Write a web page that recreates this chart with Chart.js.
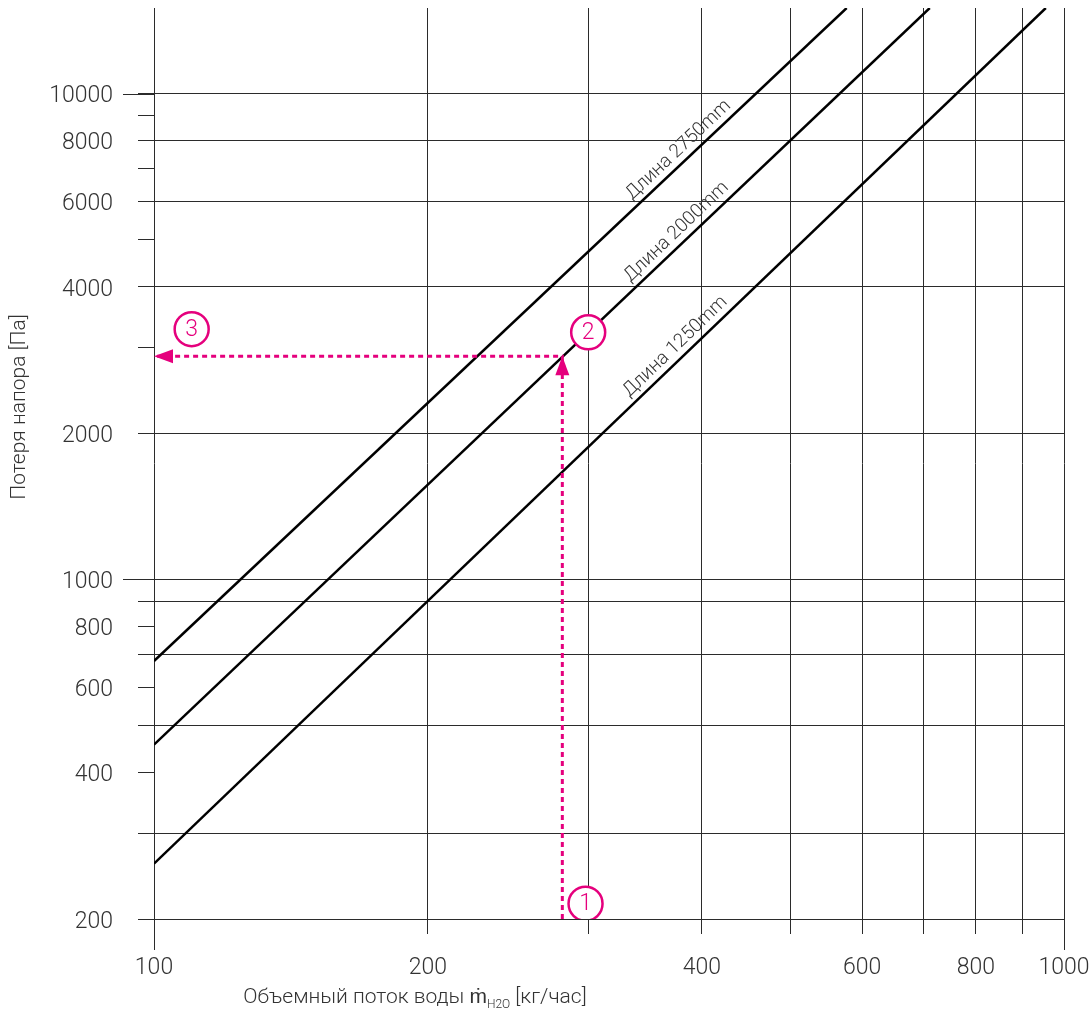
<!DOCTYPE html>
<html>
<head>
<meta charset="utf-8">
<script src="https://cdn.jsdelivr.net/npm/chart.js@4/dist/chart.umd.min.js"></script>
<style>
html,body{margin:0;padding:0;background:#fff;}
#wrap{width:1091px;height:1019px;}
</style>
</head>
<body>
<div id="wrap"><canvas id="c" width="1091" height="1019"></canvas></div>
<script>
// ---- data ----
const flowTicks = [100,200,300,400,500,600,700,800,900,1000];
const flowLabels = [100,200,400,600,800,1000];
const pressureTicks = [200,300,400,500,600,700,800,900,1000,2000,3000,4000,5000,6000,7000,8000,9000,10000];
const pressureGrid = [200,300,500,700,900,1000,2000,4000,6000,8000,10000];
const pressureLabels = [200,400,600,800,1000,2000,4000,6000,8000,10000];
const majorFlow = [100,1000];
const majorPressure = [1000,10000];

const seriesNames = ['Длина 2750mm','Длина 2000mm','Длина 1250mm'];
const seriesFlow = [[100,577],[100,712],[100,955]];
const seriesPressure = [[679,15000],[457,15000],[260,15000]];
const seriesLabelFlow = [385,383,382];

const exampleFlow = [281,281,100];
const examplePressure = [200,2880,2880];
const stepFlow = [298,300,110];
const stepPressure = [215,3226,3274];
const stepLabels = ['1','2','3'];

const yTitle = 'Потеря напора [Па]';
const xTitleMain = 'Объемный поток воды ';
const xTitleSym = 'ṁ';
const xTitleSub = 'H2O';
const xTitleUnit = ' [кг/час]';

// ---- styles ----
const FONT = 'Roboto, "Liberation Sans", sans-serif';
const MAG = '#e5007d';
const GRID = '#2b2b2b';
const TXT = '#333333';

const lineSets = seriesNames.map((n,i)=>({
  label:n,
  data: seriesFlow[i].map((x,j)=>({x:x,y:seriesPressure[i][j]})),
  showLine:true, borderColor:'#000', borderWidth:2.5, pointRadius:0, tension:0, order:2
}));

const exampleSet = {
  label:'example',
  data: exampleFlow.map((x,j)=>({x:x,y:examplePressure[j]})),
  showLine:true, borderColor:MAG, borderWidth:3, borderDash:[5,4], pointRadius:0, tension:0, order:1
};
const stepSet = {
  label:'steps',
  data: stepFlow.map((x,j)=>({x:x,y:stepPressure[j]})),
  showLine:false, pointRadius:17, pointBorderWidth:2.5, pointBorderColor:MAG, pointBackgroundColor:'#fff', order:0
};

const extras = {
  id:'extras',
  afterDraw(chart){
    const ctx = chart.ctx, xs = chart.scales.x, ys = chart.scales.y, a = chart.chartArea;
    ctx.save();
    ctx.strokeStyle = GRID; ctx.lineWidth = 1;
    majorPressure.forEach(v=>{
      const y = Math.round(ys.getPixelForValue(v))+0.5;
      ctx.beginPath(); ctx.moveTo(a.left-31,y); ctx.lineTo(a.left,y); ctx.stroke();
    });
    majorFlow.forEach(v=>{
      const x = Math.round(xs.getPixelForValue(v))+0.5;
      ctx.beginPath(); ctx.moveTo(x,a.bottom); ctx.lineTo(x,a.bottom+31); ctx.stroke();
    });
    ctx.restore();
  },
  afterDatasetsDraw(chart){
    const ctx = chart.ctx, xs = chart.scales.x, ys = chart.scales.y;
    ctx.save();
    const pts = exampleFlow.map((x,j)=>({x:xs.getPixelForValue(x), y:ys.getPixelForValue(examplePressure[j])}));
    function arrow(from,to){
      const ang = Math.atan2(to.y-from.y,to.x-from.x);
      const L=19, W=7;
      ctx.beginPath();
      ctx.moveTo(to.x,to.y);
      ctx.lineTo(to.x-L*Math.cos(ang)+W*Math.sin(ang), to.y-L*Math.sin(ang)-W*Math.cos(ang));
      ctx.lineTo(to.x-L*Math.cos(ang)-W*Math.sin(ang), to.y-L*Math.sin(ang)+W*Math.cos(ang));
      ctx.closePath(); ctx.fillStyle = MAG; ctx.fill();
    }
    arrow(pts[0],pts[1]);
    arrow(pts[1],pts[2]);
    const meta = chart.getDatasetMeta(chart.data.datasets.indexOf(stepSet));
    ctx.fillStyle = MAG; ctx.font = '300 23px '+FONT; ctx.textAlign='center'; ctx.textBaseline='middle';
    meta.data.forEach((el,i)=>{ ctx.fillText(stepLabels[i], el.x, el.y+1); });
    ctx.fillStyle = '#333'; ctx.font = '300 19px '+FONT; ctx.textBaseline='middle';
    seriesNames.forEach((n,i)=>{
      const p0 = {x:xs.getPixelForValue(seriesFlow[i][0]), y:ys.getPixelForValue(seriesPressure[i][0])};
      const p1 = {x:xs.getPixelForValue(seriesFlow[i][1]), y:ys.getPixelForValue(seriesPressure[i][1])};
      const ang = Math.atan2(p1.y-p0.y,p1.x-p0.x);
      const px = xs.getPixelForValue(seriesLabelFlow[i]);
      const t = (px-p0.x)/(p1.x-p0.x);
      const py = p0.y + t*(p1.y-p0.y);
      ctx.save(); ctx.translate(px,py); ctx.rotate(ang);
      ctx.fillText(n,0,-12);
      ctx.restore();
    });
    ctx.restore();
  }
};

const titles = {
  id:'titles',
  afterDraw(chart){
    const ctx = chart.ctx;
    ctx.save();
    ctx.fillStyle = TXT;
    ctx.font = '300 21px '+FONT; ctx.textAlign='center'; ctx.textBaseline='middle';
    ctx.save(); ctx.translate(20,407); ctx.rotate(-Math.PI/2); ctx.fillText(yTitle,0,0); ctx.restore();
    const big = '300 21px '+FONT, small = '300 12px '+FONT;
    ctx.textAlign='left'; ctx.textBaseline='alphabetic';
    ctx.font = big; const w1 = ctx.measureText(xTitleMain).width; const w2 = ctx.measureText(xTitleSym).width; const w4 = ctx.measureText(xTitleUnit).width;
    ctx.font = small; const w3 = ctx.measureText(xTitleSub).width;
    const total = w1+w2+w3+w4; let x = 415 - total/2; const base = 1003;
    ctx.font = big; ctx.fillText(xTitleMain,x,base); x+=w1;
    ctx.fillText(xTitleSym,x,base); x+=w2;
    ctx.font = small; ctx.fillText(xTitleSub,x,base+5); x+=w3;
    ctx.font = big; ctx.fillText(xTitleUnit,x,base);
    ctx.restore();
  }
};

function noPad(s){ s.paddingTop=0; s.paddingBottom=0; s.paddingLeft=0; s.paddingRight=0; }

new Chart(document.getElementById('c'),{
  type:'scatter',
  data:{datasets:[stepSet, exampleSet, ...lineSets]},
  options:{
    responsive:false, animation:false, devicePixelRatio:1,
    layout:{autoPadding:false, padding:{top:8,right:27,left:0,bottom:0}},
    plugins:{legend:{display:false},tooltip:{enabled:false}},
    events:[],
    scales:{
      x:{
        type:'logarithmic', min:100, max:1000,
        afterBuildTicks(s){ s.ticks = flowTicks.map(v=>({value:v})); },
        afterFit(s){ s.height = 100; noPad(s); },
        border:{display:false},
        grid:{color:GRID, lineWidth:1, tickLength:15, tickColor:GRID},
        ticks:{autoSkip:false, maxRotation:0, padding:20, color:TXT, font:{family:FONT, size:23, weight:'300'},
          callback:(v)=> flowLabels.includes(v) ? String(v) : ''}
      },
      y:{
        type:'logarithmic', min:200, max:15000,
        afterBuildTicks(s){ s.ticks = pressureTicks.map(v=>({value:v})); },
        afterFit(s){ s.width = 154; noPad(s); },
        border:{display:false},
        grid:{color:(c)=> (c.tick && pressureGrid.includes(c.tick.value)) ? GRID : 'rgba(0,0,0,0)', lineWidth:1, tickLength:16, tickColor:GRID},
        ticks:{autoSkip:false, padding:25, labelOffset:3, color:TXT, font:{family:FONT, size:23, weight:'300'},
          callback:(v)=> pressureLabels.includes(v) ? String(v) : ''}
      }
    }
  },
  plugins:[extras, titles]
});
</script>
</body>
</html>
